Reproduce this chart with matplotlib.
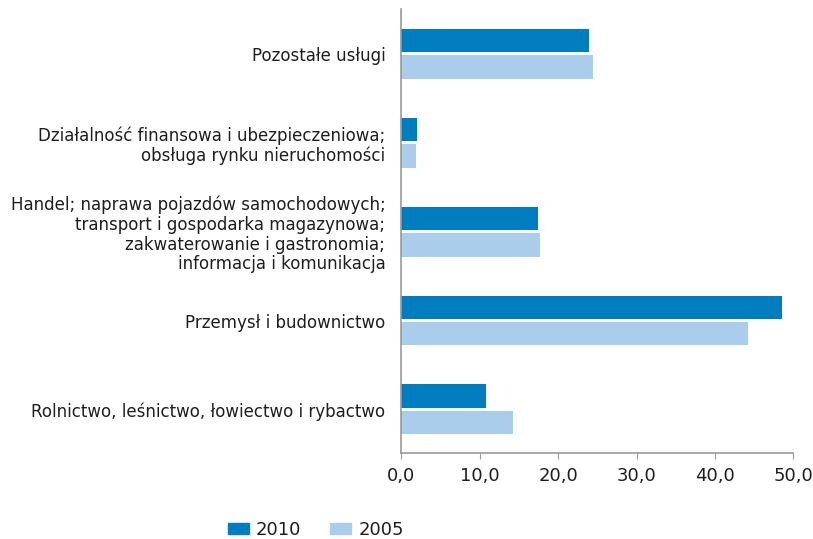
import matplotlib
matplotlib.use("Agg")
import matplotlib.pyplot as plt
from matplotlib.patches import Patch
import numpy as np

# data
categories = [
    "Rolnictwo, leśnictwo, łowiectwo i rybactwo",
    "Przemysł i budownictwo",
    "Handel; naprawa pojazdów samochodowych;\ntransport i gospodarka magazynowa;\nzakwaterowanie i gastronomia;\ninformacja i komunikacja",
    "Działalność finansowa i ubezpieczeniowa;\nobsługa rynku nieruchomości",
    "Pozostałe usługi",
]
values_2010 = [10.8, 48.6, 17.4, 2.0, 23.9]
values_2005 = [14.3, 44.2, 17.7, 1.9, 24.5]
xticks = [0, 10, 20, 30, 40, 50]
xtick_labels = ["0,0", "10,0", "20,0", "30,0", "40,0", "50,0"]

c2010 = "#007dbe"
c2005 = "#abcdec"
grey = "#999999"
txt = "#1e1e1e"

fig = plt.figure(figsize=(8.13, 5.39), dpi=100)
ax = fig.add_axes([0.4936, 0.1601, 0.4822, 0.8232])

y = np.arange(len(categories))
h = 0.265
ax.barh(y + 0.148, values_2010, height=h, color=c2010, label="2010")
ax.barh(y - 0.148, values_2005, height=h, color=c2005, label="2005")

ax.set_xlim(0, 50)
ax.set_ylim(-0.487, 4.504)
ax.set_xticks(xticks)
ax.set_xticklabels(xtick_labels, fontsize=13, color=txt)
ax.set_yticks(y)
ax.set_yticklabels(categories, fontsize=12, color=txt, linespacing=1.12)

ax.tick_params(axis="y", length=0, pad=11.5)
ax.tick_params(axis="x", length=4, color=grey, pad=6)

for side in ["top", "right"]:
    ax.spines[side].set_visible(False)
for side in ["left", "bottom"]:
    ax.spines[side].set_color(grey)
    ax.spines[side].set_linewidth(1.2)

handles = [Patch(color=c2010, label="2010"), Patch(color=c2005, label="2005")]
fig.legend(handles=handles, loc="center", bbox_to_anchor=(316 / 813, 1 - 530 / 539),
           ncol=2, frameon=False, fontsize=13, handlelength=1.15, handleheight=0.55,
           handletextpad=0.4, columnspacing=1.6, labelcolor=txt)

fig.savefig("out.png", dpi=100)
